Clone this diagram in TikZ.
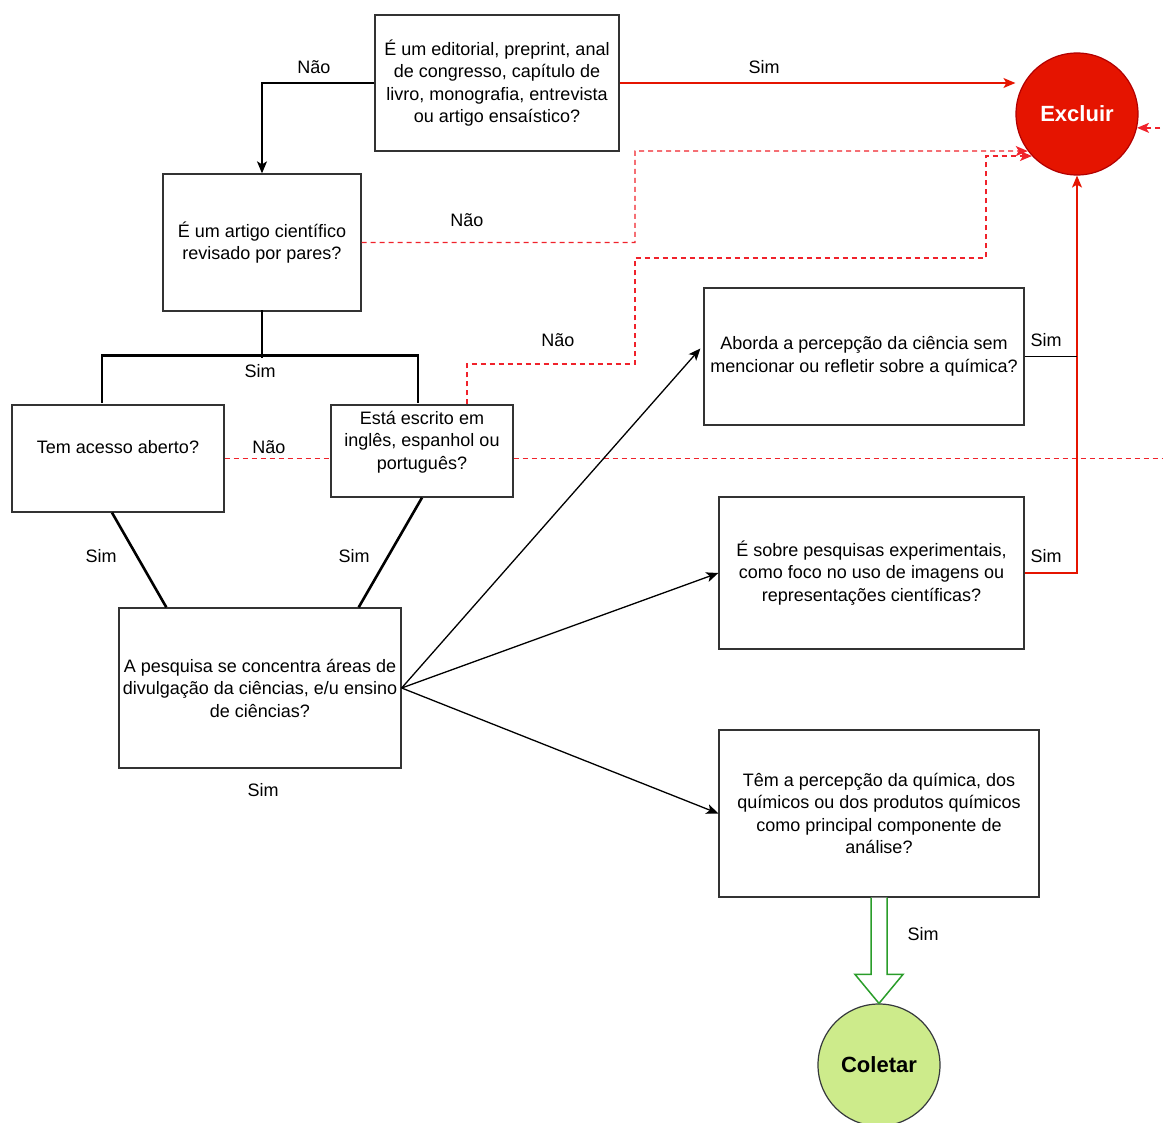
\documentclass[tikz,border=0pt]{standalone}
\usepackage{fontspec}
\setmainfont{Liberation Sans}
\usetikzlibrary{arrows.meta, positioning, calc}
\definecolor{exred}{HTML}{E51400}
\definecolor{exborder}{HTML}{B20000}
\definecolor{dashred}{HTML}{F0222B}
\definecolor{colfill}{HTML}{CDEB8B}
\definecolor{colborder}{HTML}{36393D}
\definecolor{colarrow}{HTML}{2A9D2A}
\tikzset{
  >={Stealth[length=12pt, width=10pt, inset=3pt]}, % heads like the classic ones
  x=1pt, y=-1pt, % one unit is one pixel, y grows downwards
  every node/.style={font=\fontsize{18}{22.5}\selectfont}, % text size
}

\begin{document}
\begin{tikzpicture}[line width=1.3pt,
    box/.style = {draw=black!80, fill=white, align=center, inner sep=0pt},
    final/.style = {circle, draw, line width=1.2pt, minimum size=122pt,
      font=\fontsize{22}{26}\selectfont\bfseries},
    sim/.style = {draw=exred},
    nao/.style = {draw=dashred, dash pattern=on 5pt off 4pt},
    tree/.style = {line width=2.6pt, line cap=rect},
    collect/.style = {draw=colarrow, fill=white, line width=1.5pt, line join=miter},
    lbl/.style = {inner sep=1pt}]
    \fill[white] (0,0) rectangle (1163,1123);
    \useasboundingbox (0,0) rectangle (1163,1123);

    \node[box, minimum width=244, minimum height=136] (b1) at (497,83)
      {É um editorial, preprint, anal\\de congresso, capítulo de\\livro,
      monografia, entrevista\\ou artigo ensaístico?};
    \node[box, minimum width=198, minimum height=137] (b2) at (262,242.5)
      {É um artigo científico\\revisado por pares?};
    \node[box, minimum width=212, minimum height=107,
      label={[yshift=11.5pt]center:Tem acesso aberto?}] (b3) at (118,458.5) {};
    \node[box, minimum width=182, minimum height=92,
      label={[yshift=9pt, align=center]center:Está escrito em\\inglês,
      espanhol ou\\português?}] (b4) at (422,451) {};
    \node[box, minimum width=282, minimum height=160] (b5) at (260,688)
      {A pesquisa se concentra áreas de\\divulgação da ciências, e/u
      ensino\\de ciências?};
    \node[box, minimum width=320, minimum height=137] (b6) at (864,356.5)
      {Aborda a percepção da ciência sem\\mencionar ou refletir sobre a
      química?};
    \node[box, minimum width=305, minimum height=152] (b7) at (871.5,573)
      {É sobre pesquisas experimentais,\\como foco no uso de imagens
      ou\\representações científicas?};
    \node[box, minimum width=320, minimum height=167] (b8) at (879,813.5)
      {Têm a percepção da química, dos\\químicos ou dos produtos
      químicos\\como principal componente de\\análise?};
    \node[final, fill=exred, draw=exborder, text=white] (exc) at (1077,114)
      {Excluir};
    \node[final, fill=colfill, draw=colborder] (col) at (879,1065) {Coletar};

    \draw[->] (b1.west) -| (b2.north);
    \draw[sim, ->] (b1.east) -- (b1.east -| exc.west);
    \draw[nao, ->] (b2.east) -| (635,151) -- (exc.217);
    \draw[nao, ->] ($(b4.north)+(45,0)$) |- (635,364) |- (986,258)
      |- (exc.223);
    \draw[nao] (b3.east) -- (b3.east -| b4.west);
    \draw[nao, ->] (b3.east -| b4.east) -- (1180,458.5) |- (exc.347);
    \draw[sim, ->] (b7.east) -| (exc.south);
    \draw (b6.east) -- (b6.east -| exc.south);
    \draw[->] (b5.east) -- ($(b6.west)+(-3,-8)$);
    \draw[->] (b5.east) -- (b7.west);
    \draw[->] (b5.east) -- (b8.west);
    \draw[tree] (b2.south) -- ++(0,45);
    \draw[tree] ($(b3.north)+(-16,-3)$) |- ($(b4.north)+(-4,-49)$)
      -- ($(b4.north)+(-4,-3)$);
    \draw[tree, line cap=butt] ($(b3.south)+(-6,0)$)
      -- ($(b5.north west)+(48,0)$);
    \draw[tree, line cap=butt] (b4.south) -- ($(b5.north east)+(-43,0)$);

    \draw[collect] ($(b8.south)+(-8,0)$) -- ($(col.north)+(-8,-29)$)
      -- ($(col.north)+(-24,-29)$) -- (col.north) -- ($(col.north)+(24,-29)$)
      -- ($(col.north)+(8,-29)$) -- ($(b8.south)+(8,0)$);

    \node[lbl] at (314,67) {Não};
    \node[lbl] at (764,67) {Sim};
    \node[lbl] at (467,220) {Não};
    \node[lbl] at (558,340) {Não};
    \node[lbl] at (269,447) {Não};
    \node[lbl] at (260,371) {Sim};
    \node[lbl] at (101,556) {Sim};
    \node[lbl] at (354,556) {Sim};
    \node[lbl] at (263,790) {Sim};
    \node[lbl] at (1046,340) {Sim};
    \node[lbl] at (1046,556) {Sim};
    \node[lbl] at (923,934) {Sim};
\end{tikzpicture}
\end{document}
